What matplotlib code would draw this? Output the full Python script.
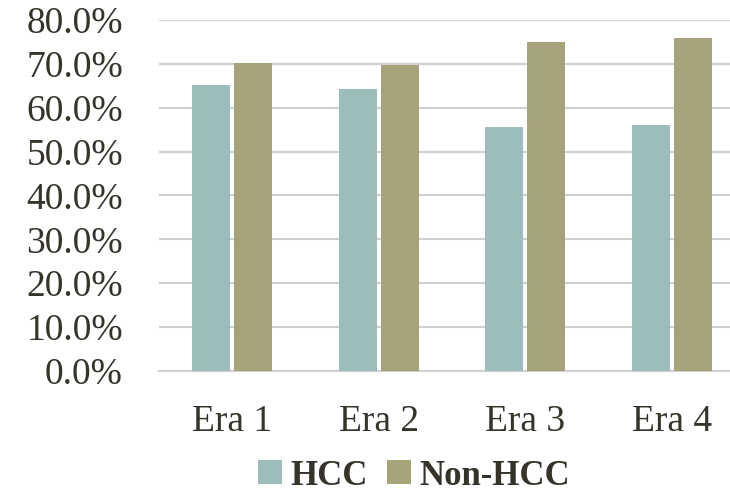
import matplotlib
matplotlib.use("Agg")
import matplotlib.pyplot as plt
import numpy as np
from matplotlib.ticker import FuncFormatter

categories = ["Era 1", "Era 2", "Era 3", "Era 4"]
hcc = [65.1, 64.2, 55.5, 56.1]
non_hcc = [70.1, 69.8, 75.0, 75.9]
series_names = ["HCC", "Non-HCC"]
yticks = [0, 10, 20, 30, 40, 50, 60, 70, 80]

c_hcc = "#9DBDBC"
c_non = "#A6A27A"
text_c = "#35332a"

plt.rcParams['font.family'] = ['Liberation Serif', 'DejaVu Serif']

fig = plt.figure(figsize=(7.30, 4.94), dpi=100)
ax_left = 159 / 730
ax_w = (745 - 159) / 730
ax = fig.add_axes([ax_left, 123 / 494, ax_w, 351 / 494])

x = np.arange(len(categories))
w = 0.26
off = 0.142
ax.bar(x - off, hcc, width=w, color=c_hcc, label=series_names[0], zorder=3)
ax.bar(x + off, non_hcc, width=w, color=c_non, label=series_names[1], zorder=3)

ax.set_xlim(-0.5, len(categories) - 0.5)
ax.set_ylim(0, 80)
ax.set_yticks(yticks)
ax.yaxis.set_major_formatter(FuncFormatter(lambda v, p: f"{v:.1f}%"))
ax.set_xticks(x)
ax.set_xticklabels(categories)
ax.grid(axis='y', color='#d0d0d0', linewidth=1.5, zorder=0)
ax.set_axisbelow(True)
for s in ['top', 'right', 'left']:
    ax.spines[s].set_visible(False)
ax.spines['bottom'].set_color('#d0d0d0')
ax.spines['bottom'].set_linewidth(1.5)
ax.tick_params(axis='both', length=0, labelsize=27, colors=text_c)
ax.tick_params(axis='y', pad=26)
ax.tick_params(axis='x', pad=24)

leg = fig.legend(loc='center', bbox_to_anchor=(414 / 730, 1 - 476 / 494), ncol=2,
                 frameon=False, prop={'weight': 'bold', 'size': 25},
                 handlelength=0.69, handleheight=0.69, handletextpad=0.23,
                 columnspacing=0.58, labelcolor=text_c)

fig.savefig("out.png", dpi=100)
